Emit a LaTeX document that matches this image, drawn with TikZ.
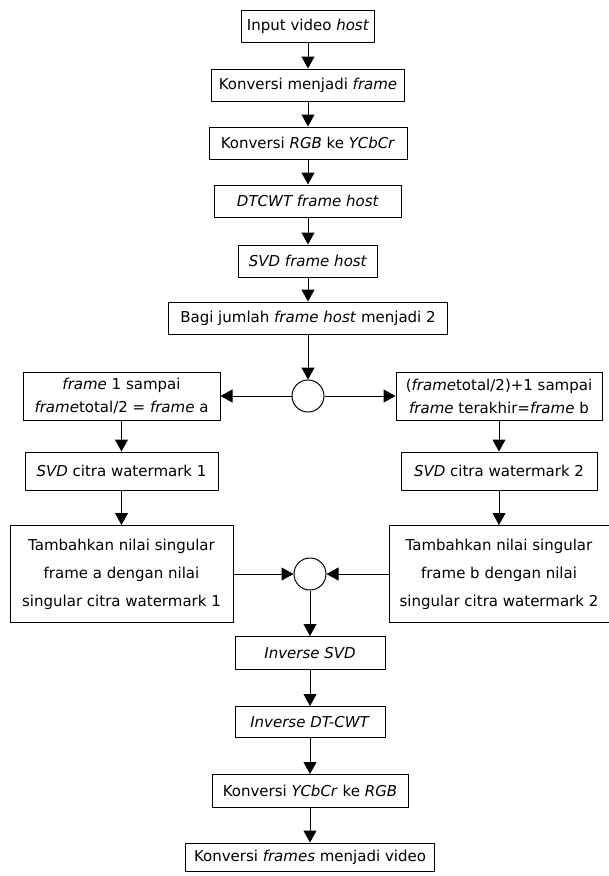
\documentclass[tikz,border=0pt]{standalone}
\usepackage{fontspec}
\setmainfont{DejaVu Sans}
\usetikzlibrary{arrows.meta}

\begin{document}
\begin{tikzpicture}[x=1pt, y=-1pt,
    box/.style={draw, line width=1pt, minimum height=32pt, align=center, inner sep=1pt, font=\fontsize{15}{23}\selectfont},
    tall/.style={box, font=\fontsize{15}{28}\selectfont},
    junc/.style={draw, circle, line width=1pt, minimum size=32pt, inner sep=0pt},
    arr/.style={-{Triangle[length=12pt, width=13pt]}, line width=1pt}
]
\useasboundingbox (0,0) rectangle (609,876);

% main column
\node[box, minimum width=133pt] (input) at (308,26) {Input video \textit{host}};
\node[box, minimum width=193pt] (toframe) at (308,85) {Konversi menjadi \textit{frame}};
\node[box, minimum width=198pt] (toycbcr) at (308,143) {Konversi \textit{RGB} ke \textit{YCbCr}};
\node[box, minimum width=187pt] (dtcwt) at (308,201) {\textit{DTCWT frame host}};
\node[box, minimum width=139pt] (svdhost) at (308,261) {\textit{SVD frame host}};
\node[box, minimum width=279pt] (bagi) at (308,318) {Bagi jumlah \textit{frame host} menjadi 2};
\node[junc] (split) at (308,396) {};

% two branches
\node[box, minimum width=197pt, minimum height=48pt] (fra) at (121.5,396) {\textit{frame} 1 sampai\\\textit{frame}total/2 = \textit{frame} a};
\node[box, minimum width=206pt, minimum height=48pt] (frb) at (499,396) {(\textit{frame}total/2)+1 sampai\\\textit{frame} terakhir=\textit{frame} b};
\node[box, minimum width=193pt, minimum height=38pt] (svda) at (121.5,471) {\textit{SVD} citra watermark 1};
\node[box, minimum width=196pt, minimum height=38pt] (svdb) at (499,471) {\textit{SVD} citra watermark 2};
\node[tall, minimum width=223pt, minimum height=97pt] (adda) at (121.5,574) {Tambahkan nilai singular\\frame a dengan nilai\\singular citra watermark 1};
\node[tall, minimum width=220pt, minimum height=97pt] (addb) at (499,574) {Tambahkan nilai singular\\frame b dengan nilai\\singular citra watermark 2};
\node[junc] (merge) at (310,574) {};

% back to one column
\node[box, minimum width=150pt, minimum height=33pt] (isvd) at (310,653) {\textit{Inverse SVD}};
\node[box, minimum width=150pt, minimum height=31pt] (idtcwt) at (310,722) {\textit{Inverse DT-CWT}};
\node[box, minimum width=196pt, minimum height=33pt] (torgb) at (310,791) {Konversi \textit{YCbCr} ke \textit{RGB}};
\node[box, minimum width=249pt, minimum height=28pt] (tovideo) at (310,857) {Konversi \textit{frames} menjadi video};

\draw[arr] (input) -- (toframe);
\draw[arr] (toframe) -- (toycbcr);
\draw[arr] (toycbcr) -- (dtcwt);
\draw[arr] (dtcwt) -- (svdhost);
\draw[arr] (svdhost) -- (bagi);
\draw[arr] (bagi) -- (split);
\draw[arr] (split) -- (fra);
\draw[arr] (split) -- (frb);
\draw[arr] (fra) -- (svda);
\draw[arr] (frb) -- (svdb);
\draw[arr] (svda) -- (adda);
\draw[arr] (svdb) -- (addb);
\draw[arr] (adda) -- (merge);
\draw[arr] (addb) -- (merge);
\draw[arr] (merge) -- (isvd);
\draw[arr] (isvd) -- (idtcwt);
\draw[arr] (idtcwt) -- (torgb);
\draw[arr] (torgb) -- (tovideo);
\end{tikzpicture}
\end{document}
